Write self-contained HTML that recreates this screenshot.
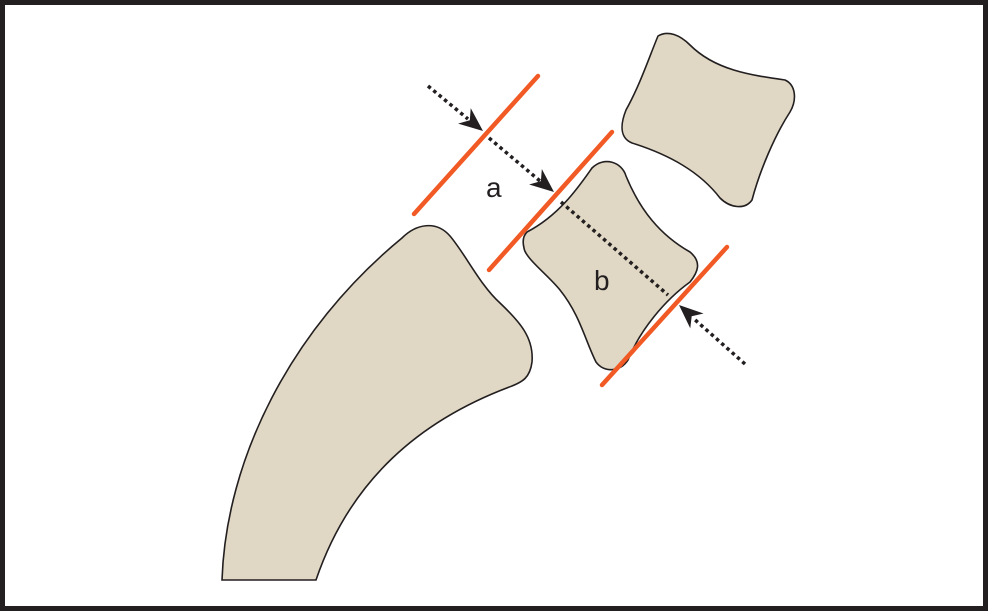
<!DOCTYPE html>
<html><head><style>html,body{margin:0;padding:0;background:#fff}svg{display:block}</style></head>
<body>
<svg width="988" height="611" viewBox="0 0 988 611" xmlns="http://www.w3.org/2000/svg">
<rect x="0" y="0" width="988" height="611" fill="#231f20"/>
<rect x="5" y="5" width="978" height="601" fill="#fff"/>
<g fill="#e0d8c4" stroke="#231f20" stroke-width="1.6">
<path d="M222,580 C226,460 290,330 402,238 C416,224 436,220 450,236 C466,255 480,285 500,303 C520,322 534,338 532,362 C530,378 522,382 512,386 C420,420 350,480 316,580 Z"/>
<path d="M527,232 C560,215 580,185 592,168 C604,156 622,162 626,176 C640,210 660,235 690,252 C702,262 698,272 690,282 C665,300 640,330 628,360 C620,372 604,373 596,362 C585,340 580,315 560,290 C548,275 525,258 524,248 C522,240 524,235 527,232 Z"/>
<path d="M658,36 C668,30 680,35 690,45 C715,70 750,75 785,80 C796,85 797,100 790,112 C775,135 760,170 752,200 C745,210 730,208 720,198 C700,172 670,155 632,143 C620,138 620,125 626,110 C640,85 650,55 658,36 Z"/>
</g>
<g stroke="#f15a24" stroke-width="4.5" stroke-linecap="round">
<line x1="414" y1="214" x2="538" y2="76"/>
<line x1="489" y1="270" x2="612" y2="132"/>
<line x1="602" y1="385" x2="727" y2="247"/>
</g>
<g stroke="#231f20" stroke-width="3.5" stroke-dasharray="3.5,3.5" fill="none">
<line x1="428" y1="86" x2="468" y2="119"/>
<line x1="489" y1="138" x2="540" y2="181"/>
<line x1="561" y1="202" x2="668" y2="295"/>
<line x1="745" y1="364" x2="693" y2="318"/>
</g>
<g fill="#231f20">
<path d="M0,0 L-24,-10 L-17,0 L-24,10 Z" transform="translate(483,131) rotate(39.2)"/>
<path d="M0,0 L-24,-10 L-17,0 L-24,10 Z" transform="translate(554,192) rotate(39.5)"/>
<path d="M0,0 L-24,-10 L-17,0 L-24,10 Z" transform="translate(679,305) rotate(221.7)"/>
</g>
<text x="486" y="197" font-family="Liberation Sans, sans-serif" font-size="28" fill="#231f20">a</text>
<text x="594" y="290" font-family="Liberation Sans, sans-serif" font-size="28" fill="#231f20">b</text>
</svg>
</body></html>
